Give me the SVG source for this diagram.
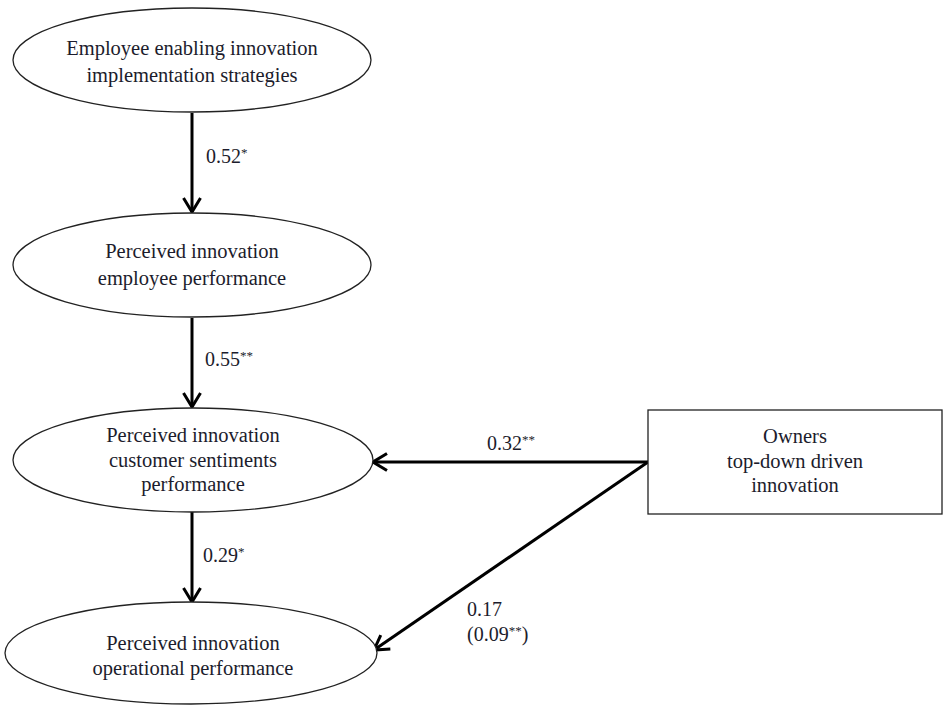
<svg xmlns="http://www.w3.org/2000/svg" width="945" height="705" viewBox="0 0 945 705">
<style>
  .node { fill: #fff; stroke: #222; stroke-width: 1.3; }
  .t { font-family: "Liberation Serif", "Times New Roman", serif; font-size: 20.5px; fill: #1c1c2c; text-anchor: middle; }
  .lbl { font-family: "Liberation Serif", "Times New Roman", serif; font-size: 20px; fill: #1c1c2c; }
  .sup { font-size: 13px; }
  .edge { stroke: #000; stroke-width: 3; fill: none; }
</style>
<defs>
  <marker id="arr" viewBox="0 0 17 20" refX="15.5" refY="10" markerWidth="17" markerHeight="20" markerUnits="userSpaceOnUse" orient="auto">
    <path d="M1.5,1.5 L15.5,10 L1.5,18.5" fill="none" stroke="#000" stroke-width="3" stroke-linejoin="miter"/>
  </marker>
</defs>
<rect width="945" height="705" fill="#fff"/>
<g id="connectors">
  <line class="edge" x1="192" y1="113" x2="192" y2="212" marker-end="url(#arr)"/>
  <line class="edge" x1="192" y1="318" x2="192" y2="407" marker-end="url(#arr)"/>
  <line class="edge" x1="192" y1="512" x2="192" y2="602" marker-end="url(#arr)"/>
  <line class="edge" x1="648" y1="462" x2="373" y2="462" marker-end="url(#arr)"/>
  <line class="edge" x1="648" y1="462" x2="374" y2="650" marker-end="url(#arr)"/>
  <text class="lbl" x="206" y="163">0.52<tspan class="sup" dy="-6">*</tspan></text>
  <text class="lbl" x="205" y="366">0.55<tspan class="sup" dy="-6">**</tspan></text>
  <text class="lbl" x="203" y="562">0.29<tspan class="sup" dy="-6">*</tspan></text>
  <text class="lbl" x="487" y="450">0.32<tspan class="sup" dy="-6">**</tspan></text>
  <text class="lbl" x="467" y="616">0.17</text>
  <text class="lbl" x="467" y="641">(0.09<tspan class="sup" dy="-6">**</tspan><tspan dy="6">)</tspan></text>
</g>
<g id="n1">
  <ellipse class="node" cx="192" cy="60" rx="179" ry="52"/>
  <text class="t" x="192" y="55">Employee enabling innovation</text>
  <text class="t" x="192" y="82">implementation strategies</text>
</g>
<g id="n2">
  <ellipse class="node" cx="192" cy="265" rx="179" ry="52"/>
  <text class="t" x="192" y="258">Perceived innovation</text>
  <text class="t" x="192" y="285">employee performance</text>
</g>
<g id="n3">
  <ellipse class="node" cx="193" cy="460" rx="180" ry="52"/>
  <text class="t" x="193" y="442">Perceived innovation</text>
  <text class="t" x="193" y="467">customer sentiments</text>
  <text class="t" x="193" y="491">performance</text>
</g>
<g id="n4">
  <ellipse class="node" cx="191" cy="653" rx="186" ry="51"/>
  <text class="t" x="193" y="650">Perceived innovation</text>
  <text class="t" x="193" y="675">operational performance</text>
</g>
<g id="n5">
  <rect class="node" x="648" y="410" width="294" height="104"/>
  <text class="t" x="795" y="443">Owners</text>
  <text class="t" x="795" y="468">top-down driven</text>
  <text class="t" x="795" y="492">innovation</text>
</g>
</svg>
